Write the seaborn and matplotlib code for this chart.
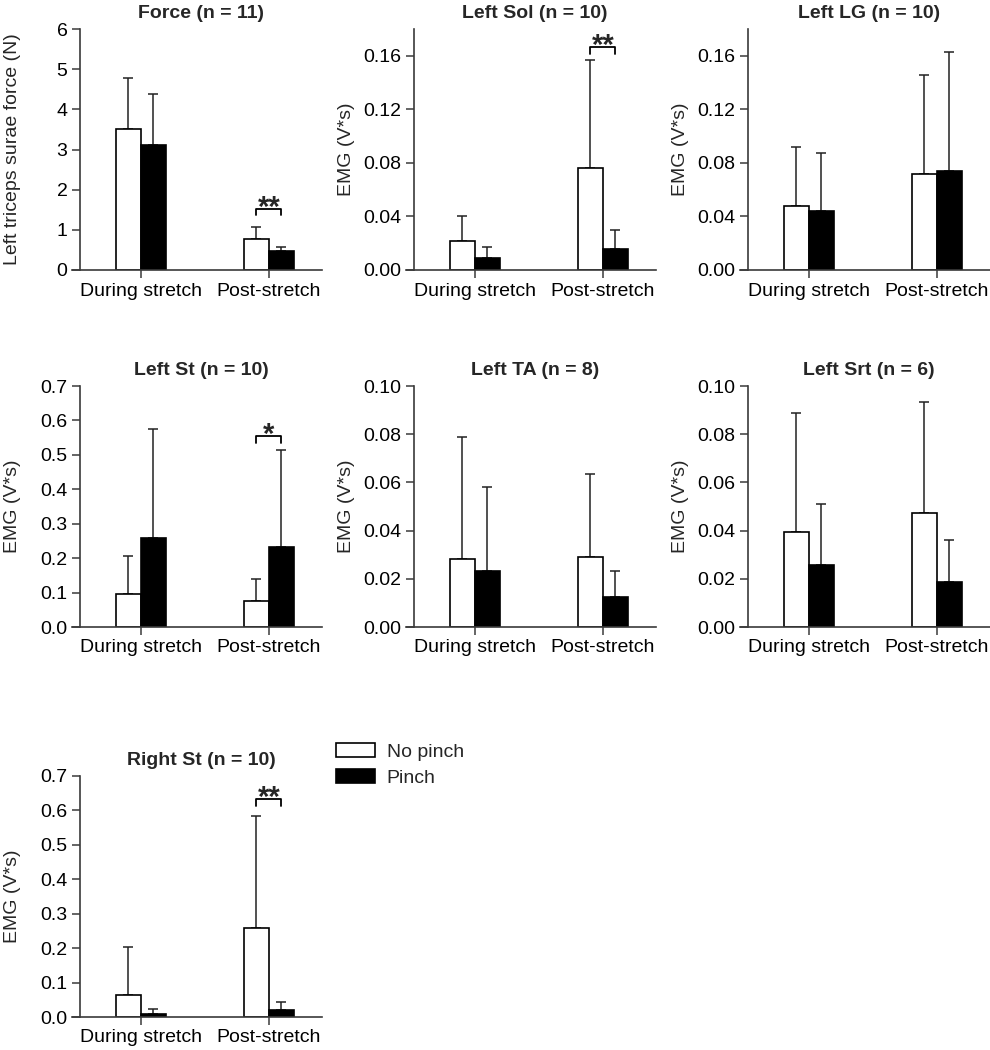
import numpy as np
import pandas as pd
import matplotlib
matplotlib.use("Agg")
import matplotlib.pyplot as plt
from matplotlib.container import BarContainer
import seaborn as sns

sns.set_theme(style="ticks")
plt.rcParams['font.family'] = ['Liberation Sans', 'DejaVu Sans']

phases = ["During stretch", "Post-stretch"]
conditions = ["No pinch", "Pinch"]

# Panel data: mean and SD (upper error) for No pinch / Pinch
force_np_mean = [3.50, 0.77]; force_np_sd = [1.28, 0.31]
force_p_mean = [3.12, 0.47];  force_p_sd = [1.26, 0.10]

lsol_np_mean = [0.0214, 0.0760]; lsol_np_sd = [0.0190, 0.0810]
lsol_p_mean = [0.0092, 0.0155];  lsol_p_sd = [0.0082, 0.0142]

llg_np_mean = [0.0481, 0.0718]; llg_np_sd = [0.0434, 0.0735]
llg_p_mean = [0.0439, 0.0743];  llg_p_sd = [0.0433, 0.0882]

lst_np_mean = [0.096, 0.076]; lst_np_sd = [0.109, 0.063]
lst_p_mean = [0.259, 0.231];  lst_p_sd = [0.317, 0.284]

lta_np_mean = [0.0284, 0.0291]; lta_np_sd = [0.0504, 0.0343]
lta_p_mean = [0.0234, 0.0123];  lta_p_sd = [0.0347, 0.0111]

lsrt_np_mean = [0.0394, 0.0473]; lsrt_np_sd = [0.0494, 0.0461]
lsrt_p_mean = [0.0257, 0.0188];  lsrt_p_sd = [0.0255, 0.0172]

rst_np_mean = [0.063, 0.259]; rst_np_sd = [0.139, 0.325]
rst_p_mean = [0.0097, 0.0194]; rst_p_sd = [0.0145, 0.0242]

titles = ["Force (n = 11)", "Left Sol (n = 10)", "Left LG (n = 10)",
          "Left St (n = 10)", "Left TA (n = 8)", "Left Srt (n = 6)",
          "Right St (n = 10)"]
ylabels = ["Left triceps surae force (N)"] + ["EMG (V*s)"] * 6
yticks_list = [
    [0, 1, 2, 3, 4, 5, 6],
    [0.00, 0.04, 0.08, 0.12, 0.16],
    [0.00, 0.04, 0.08, 0.12, 0.16],
    [0.0, 0.1, 0.2, 0.3, 0.4, 0.5, 0.6, 0.7],
    [0.00, 0.02, 0.04, 0.06, 0.08, 0.10],
    [0.00, 0.02, 0.04, 0.06, 0.08, 0.10],
    [0.0, 0.1, 0.2, 0.3, 0.4, 0.5, 0.6, 0.7],
]
ylims = [(0, 6), (0, 0.18), (0, 0.18), (0, 0.7), (0, 0.10), (0, 0.10), (0, 0.7)]
yfmts = ["{:.0f}", "{:.2f}", "{:.2f}", "{:.1f}", "{:.2f}", "{:.2f}", "{:.1f}"]

# significance: (panel index, phase index, bracket top, label)
sig_panel = [0, 1, 3, 6]
sig_phase = [1, 1, 1, 1]
sig_top = [1.52, 0.1665, 0.554, 0.633]
sig_label = ["**", "**", "*", "**"]

means = [
    (force_np_mean, force_p_mean, force_np_sd, force_p_sd),
    (lsol_np_mean, lsol_p_mean, lsol_np_sd, lsol_p_sd),
    (llg_np_mean, llg_p_mean, llg_np_sd, llg_p_sd),
    (lst_np_mean, lst_p_mean, lst_np_sd, lst_p_sd),
    (lta_np_mean, lta_p_mean, lta_np_sd, lta_p_sd),
    (lsrt_np_mean, lsrt_p_mean, lsrt_np_sd, lsrt_p_sd),
    (rst_np_mean, rst_p_mean, rst_np_sd, rst_p_sd),
]

W, H = 990, 1050
fig = plt.figure(figsize=(W / 100, H / 100), dpi=100)
col_left = [80, 414, 748]
row_top = [29, 386, 776]
ax_w, ax_h = 242, 241
spine_c = "#3a3a3a"
xlo, xhi = -0.475, 1.415

axes = []
bar_sets = []
for i in range(7):
    r, c = divmod(i, 3)
    l = col_left[c]
    t = row_top[r]
    ax = fig.add_axes([l / W, 1 - (t + ax_h) / H, ax_w / W, ax_h / H])
    axes.append(ax)
    npm, pm, nps, ps = means[i]
    df = pd.DataFrame({
        "phase": phases * 2,
        "condition": [conditions[0]] * 2 + [conditions[1]] * 2,
        "value": list(npm) + list(pm),
    })
    sns.barplot(data=df, x="phase", y="value", hue="condition",
                order=phases, hue_order=conditions,
                palette=["white", "black"], saturation=1,
                edgecolor="black", linewidth=1.2, width=0.39,
                errorbar=None, ax=ax, legend=(i == 6), zorder=2)
    conts = [cn for cn in ax.containers if isinstance(cn, BarContainer)]
    bar_sets.append(conts)
    sds = [nps, ps]
    for k, cont in enumerate(conts):
        xs = [b.get_x() + b.get_width() / 2 for b in cont]
        ys = [b.get_height() for b in cont]
        ax.errorbar(xs, ys, yerr=[np.zeros(len(xs)), np.array(sds[k])],
                    fmt="none", ecolor="#222222", elinewidth=1.1,
                    capsize=3.6, capthick=1.1, zorder=1.5)
    ax.set_xlim(xlo, xhi)
    ax.set_ylim(*ylims[i])
    ax.set_yticks(yticks_list[i])
    ax.set_yticklabels([yfmts[i].format(v) for v in yticks_list[i]])
    ax.set_xlabel("")
    ax.set_ylabel(ylabels[i], fontsize=14)
    ax.yaxis.set_label_coords(-0.243, 0.5)
    ax.set_title(titles[i], fontsize=14, fontweight="bold", pad=8)
    sns.despine(ax=ax)
    for s in ["left", "bottom"]:
        ax.spines[s].set_color(spine_c)
        ax.spines[s].set_linewidth(1.2)
    # bottom axis line reaches the end of the y tick marks
    ext = 8 / ax_w * (xhi - xlo)
    ax.spines["bottom"].set_bounds(xlo - ext, xhi)
    ax.tick_params(axis="both", direction="out", length=6, width=1.1,
                   colors=spine_c, labelcolor="black", labelsize=14, pad=3)

# significance brackets
for j in range(len(sig_panel)):
    ax = axes[sig_panel[j]]
    conts = bar_sets[sig_panel[j]]
    ph = sig_phase[j]
    b0 = conts[0][ph]
    b1 = conts[1][ph]
    xa = b0.get_x() + b0.get_width() / 2
    xb = b1.get_x() + b1.get_width() / 2
    y0, y1 = ax.get_ylim()
    leg = 6.5 / ax_h * (y1 - y0)
    top = sig_top[j]
    ax.plot([xa, xa, xb, xb], [top - leg, top, top, top - leg],
            color="black", lw=1.3, clip_on=False, zorder=3)
    ax.annotate(sig_label[j], xy=((xa + xb) / 2, top), xytext=(0, -5),
                textcoords="offset points", ha="center", va="baseline",
                fontsize=21, fontweight="bold", annotation_clip=False)

# legend
sns.move_legend(axes[6], loc="upper left",
                bbox_to_anchor=(336 / W, 1 - 743 / H),
                bbox_transform=fig.transFigure, frameon=False, title=None,
                fontsize=14, handlelength=2.0, handleheight=0.72,
                labelspacing=0.45, handletextpad=0.6,
                borderpad=0, borderaxespad=0)

fig.savefig("out.png", dpi=100)
